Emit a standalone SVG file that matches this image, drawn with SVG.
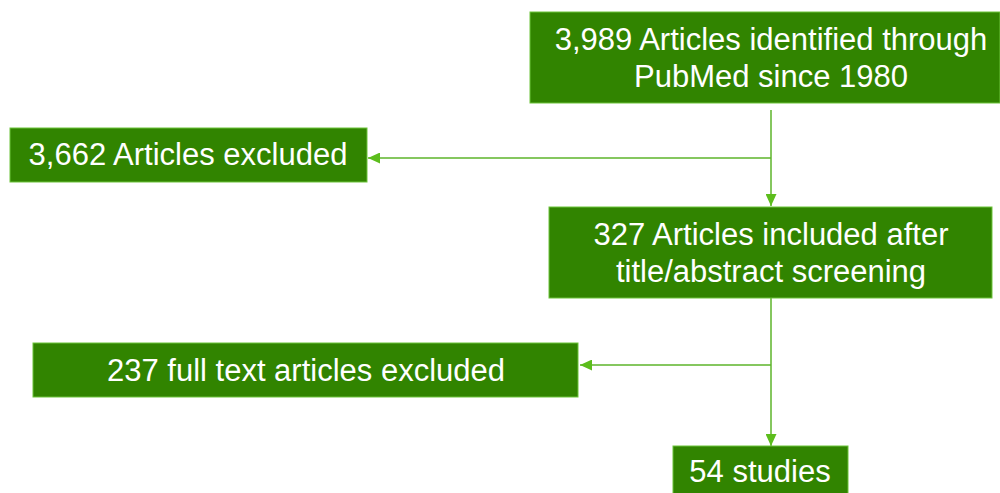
<svg xmlns="http://www.w3.org/2000/svg" width="1000" height="493" viewBox="0 0 1000 493">
  <style>
    .box { fill: #318400; stroke: #6cc33a; stroke-width: 1; }
    .lbl { fill: #ffffff; font-family: "Liberation Sans", Arial, sans-serif; font-size: 31px; text-anchor: middle; }
    .edge { fill: none; stroke: #5cb52a; stroke-width: 1.5; }
  </style>
  <defs>
    <marker id="arrow" viewBox="0 0 12 11" refX="12" refY="5.5" markerWidth="12" markerHeight="11" markerUnits="userSpaceOnUse" orient="auto">
      <path d="M0,0 L12,5.5 L0,11 Z" fill="#5cbd1c"/>
    </marker>
  </defs>

  <g id="connectors">
    <path class="edge" d="M771,110 V206" marker-end="url(#arrow)"/>
    <path class="edge" d="M771,158 H368" marker-end="url(#arrow)"/>
    <path class="edge" d="M771,298 V446" marker-end="url(#arrow)"/>
    <path class="edge" d="M771,365 H580" marker-end="url(#arrow)"/>
  </g>

  <g id="identified">
    <rect class="box" x="530" y="12" width="470" height="91"/>
    <text class="lbl" x="771" y="50">3,989 Articles identified through</text>
    <text class="lbl" x="771" y="87">PubMed since 1980</text>
  </g>

  <g id="excluded-screening">
    <rect class="box" x="10" y="128" width="357" height="54"/>
    <text class="lbl" x="188" y="165">3,662 Articles excluded</text>
  </g>

  <g id="included">
    <rect class="box" x="549" y="207" width="443" height="91"/>
    <text class="lbl" x="771" y="245">327 Articles included after</text>
    <text class="lbl" x="771" y="282">title/abstract screening</text>
  </g>

  <g id="excluded-fulltext">
    <rect class="box" x="33" y="343" width="545" height="54"/>
    <text class="lbl" x="306" y="381">237 full text articles excluded</text>
  </g>

  <g id="studies">
    <rect class="box" x="673" y="446" width="175" height="54"/>
    <text class="lbl" x="760" y="482">54 studies</text>
  </g>
</svg>
